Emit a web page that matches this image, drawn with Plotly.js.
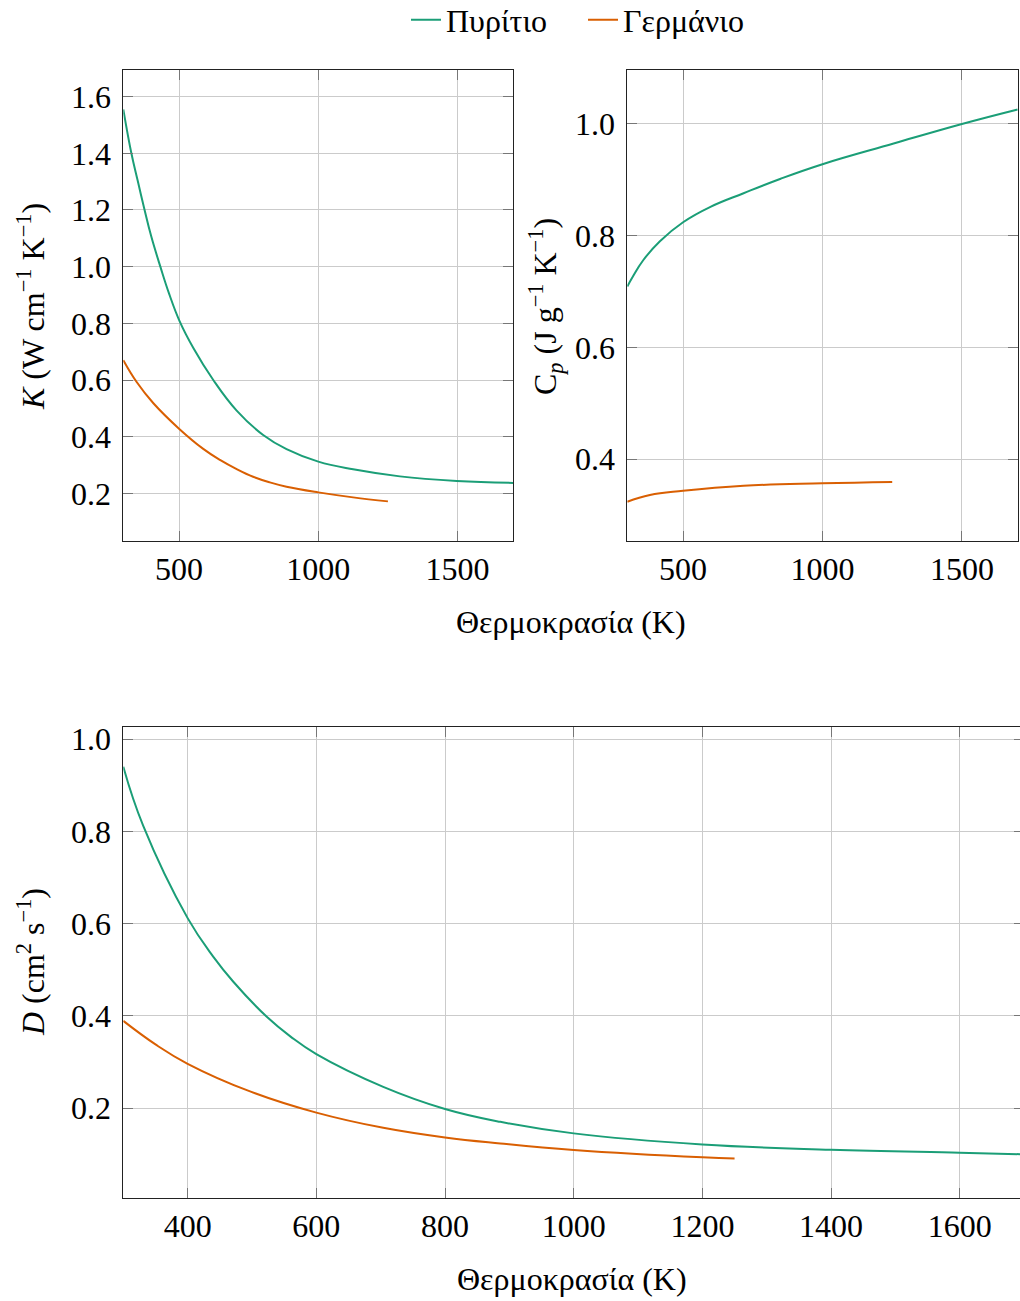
<!DOCTYPE html>
<html>
<head>
<meta charset="utf-8">
<script src="https://cdn.plot.ly/plotly-3.0.1.min.js"></script>
<style>
html,body{margin:0;padding:0;overflow:hidden;background:#fff;}
#chart{width:1030px;height:1301px;}
</style>
</head>
<body>
<div id="chart"></div>
<script>
// ---- Data ----
const seriesNames = ["Πυρίτιο", "Γερμάνιο"];

// Thermal conductivity K (W cm^-1 K^-1)
const T_K_si = [300, 329, 352, 376, 400, 433, 465, 502, 552, 623, 707, 802, 886, 1000, 1125, 1293, 1497, 1700];
const K_si   = [1.555, 1.40, 1.302, 1.202, 1.108, 1.00, 0.903, 0.808, 0.712, 0.60, 0.492, 0.406, 0.356, 0.312, 0.285, 0.260, 0.244, 0.237];
const T_K_ge = [300, 348, 408, 501, 587, 647, 707, 766, 826, 886, 1000, 1125, 1250];
const K_ge   = [0.670, 0.593, 0.518, 0.4275, 0.357, 0.318, 0.2856, 0.2586, 0.2387, 0.2234, 0.2035, 0.1859, 0.1718];

// Specific heat Cp (J g^-1 K^-1)
const T_C_si = [300, 320, 357, 417, 500, 600, 717, 850, 1000, 1255, 1500, 1700];
const C_si   = [0.709, 0.727, 0.756, 0.790, 0.824, 0.852, 0.876, 0.902, 0.928, 0.965, 1.000, 1.026];
const T_C_ge = [300, 381, 500, 717, 1000, 1250];
const C_ge   = [0.3235, 0.3355, 0.343, 0.352, 0.3565, 0.359];

// Diffusivity D (cm^2 s^-1)
const T_D_si = [300, 331, 400, 440, 471, 523, 560, 600, 704, 800, 886, 1000, 1200, 1400, 1600, 1700];
const D_si   = [0.9405, 0.812, 0.612, 0.528, 0.474, 0.398, 0.355, 0.317, 0.246, 0.198, 0.170, 0.145, 0.121, 0.1095, 0.103, 0.0996];
const T_D_ge = [300, 350, 400, 497, 600, 704, 800, 886, 1000, 1200, 1250];
const D_ge   = [0.389, 0.338, 0.296, 0.236, 0.190, 0.157, 0.136, 0.123, 0.109, 0.093, 0.0905];

const xTitle = "Θερμοκρασία (K)";
const yTitles = [
  "<i>K</i> (W cm<sup>−1</sup> K<sup>−1</sup>)",
  "C<sub><i>p</i></sub> (J g<sup>−1</sup> K<sup>−1</sup>)",
  "<i>D</i> (cm<sup>2</sup> s<sup>−1</sup>)"
];

// ---- Styling ----
const GREEN = "#1b9e77", ORANGE = "#d95f02";
const FONT = "Liberation Serif, Times New Roman, serif";
const FS = 32;
const W = 1030, H = 1301;
const px = v => v / W, py = v => 1 - v / H;

function line(x, y, color, xa, ya, name, show) {
  return {x, y, type: "scatter", mode: "lines", line: {color, width: 2, shape: "spline", smoothing: 1.2},
          xaxis: xa, yaxis: ya, name, legendgroup: name, showlegend: show, hoverinfo: "skip"};
}

const data = [
  line(T_K_si, K_si, GREEN, "x", "y", seriesNames[0], true),
  line(T_K_ge, K_ge, ORANGE, "x", "y", seriesNames[1], true),
  line(T_C_si, C_si, GREEN, "x2", "y2", seriesNames[0], false),
  line(T_C_ge, C_ge, ORANGE, "x2", "y2", seriesNames[1], false),
  line(T_D_si, D_si, GREEN, "x3", "y3", seriesNames[0], false),
  line(T_D_ge, D_ge, ORANGE, "x3", "y3", seriesNames[1], false)
];

function axis(extra) {
  return Object.assign({
    showline: true, linecolor: "#222", linewidth: 1, mirror: "allticks",
    ticks: "inside", ticklen: 10, tickwidth: 1, tickcolor: "#777",
    showgrid: true, gridcolor: "#cbcbcb", gridwidth: 1, zeroline: false,
    tickfont: {family: FONT, size: FS, color: "#000"}, fixedrange: true
  }, extra);
}

const layout = {
  width: W, height: H,
  margin: {l: 0, r: 0, t: 0, b: 0, autoexpand: false},
  paper_bgcolor: "#fff", plot_bgcolor: "#fff",
  font: {family: FONT, size: FS, color: "#000"},
  showlegend: true,
  legend: {orientation: "h", x: px(583), y: py(20), xanchor: "center", yanchor: "middle",
           font: {family: FONT, size: FS, color: "#000"}, entrywidth: 132, entrywidthmode: "pixels",
           tracegroupgap: 0, bgcolor: "rgba(0,0,0,0)"},
  xaxis: axis({domain: [px(123.3), px(513.3)], range: [300, 1700], tickvals: [500, 1000, 1500], anchor: "y", ticklabelstandoff: 0}),
  yaxis: axis({domain: [py(540.7), py(70)], range: [0.033, 1.694], tickvals: [0.2, 0.4, 0.6, 0.8, 1.0, 1.2, 1.4, 1.6], tickformat: ".1f", anchor: "x", ticklabelstandoff: 5}),
  xaxis2: axis({domain: [px(627.3), px(1017.7)], range: [300, 1700], tickvals: [500, 1000, 1500], anchor: "y2", ticklabelstandoff: 0}),
  yaxis2: axis({domain: [py(540.7), py(70)], range: [0.2537, 1.0967], tickvals: [0.4, 0.6, 0.8, 1.0], tickformat: ".1f", anchor: "x2", ticklabelstandoff: 5}),
  xaxis3: axis({domain: [px(123.3), px(1024.1)], range: [300, 1700], tickvals: [400, 600, 800, 1000, 1200, 1400, 1600], anchor: "y3", ticklabelstandoff: 0}),
  yaxis3: axis({domain: [py(1198), py(727.3)], range: [0.0048, 1.026], tickvals: [0.2, 0.4, 0.6, 0.8, 1.0], tickformat: ".1f", anchor: "x3", ticklabelstandoff: 5}),
  annotations: [
    {text: xTitle, xref: "paper", yref: "paper", x: px(571), y: py(622), xanchor: "center", yanchor: "middle", showarrow: false, font: {family: FONT, size: FS}},
    {text: xTitle, xref: "paper", yref: "paper", x: px(572), y: py(1279), xanchor: "center", yanchor: "middle", showarrow: false, font: {family: FONT, size: FS}},
    {text: yTitles[0], xref: "paper", yref: "paper", x: px(31), y: py(307), xanchor: "center", yanchor: "middle", textangle: -90, showarrow: false, font: {family: FONT, size: FS}},
    {text: yTitles[1], xref: "paper", yref: "paper", x: px(545), y: py(307), xanchor: "center", yanchor: "middle", textangle: -90, showarrow: false, font: {family: FONT, size: FS}},
    {text: yTitles[2], xref: "paper", yref: "paper", x: px(31), y: py(962), xanchor: "center", yanchor: "middle", textangle: -90, showarrow: false, font: {family: FONT, size: FS}}
  ]
};

Plotly.newPlot("chart", data, layout, {displayModeBar: false, staticPlot: true});
</script>
</body>
</html>
